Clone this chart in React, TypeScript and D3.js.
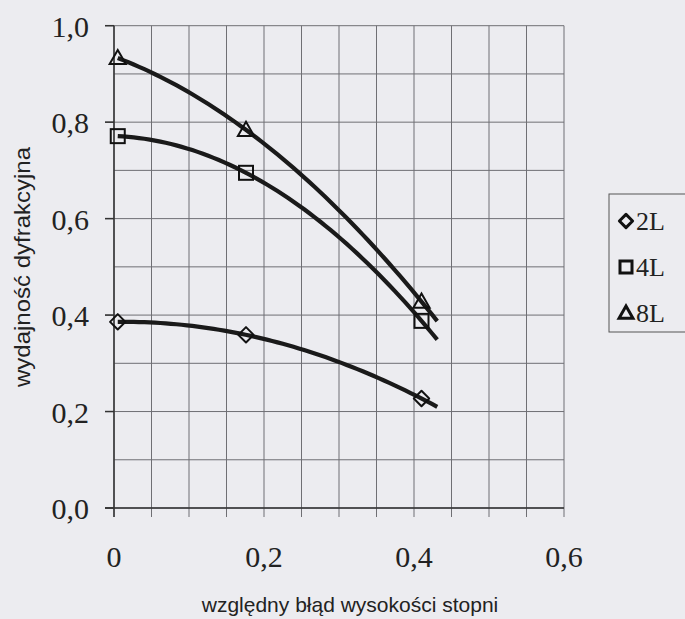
import React from "react";
import * as d3 from "d3";

const xValues = [0.005, 0.176, 0.41];
const series2L = [0.386, 0.359, 0.227];
const series4L = [0.771, 0.695, 0.388];
const series8L = [0.933, 0.784, 0.428];
const trendEndX = 0.431;
const xTickLabels = ["0", "0,2", "0,4", "0,6"];
const xTickValues = [0, 0.2, 0.4, 0.6];
const yTickValues = [0, 0.2, 0.4, 0.6, 0.8, 1.0];
const yTickLabels = ["0,0", "0,2", "0,4", "0,6", "0,8", "1,0"];
const seriesNames = ["2L", "4L", "8L"];

const W = 685;
const H = 619;

// polynomial (order 2) trendline through the three measured points
function quadTrend(xs: number[], ys: number[]) {
  const [x0, x1, x2] = xs;
  const [y0, y1, y2] = ys;
  return (t: number) =>
    (y0 * (t - x1) * (t - x2)) / ((x0 - x1) * (x0 - x2)) +
    (y1 * (t - x0) * (t - x2)) / ((x1 - x0) * (x1 - x2)) +
    (y2 * (t - x0) * (t - x1)) / ((x2 - x0) * (x2 - x1));
}

export default function App() {
  const x = d3.scaleLinear().domain([0, 0.6]).range([114, 564]);
  const y = d3.scaleLinear().domain([0, 1]).range([508, 25.7]);
  const xGrid = d3.range(0, 13).map((i) => i * 0.05);
  const yGrid = d3.range(0, 11).map((i) => i * 0.1);
  const line = d3
    .line<[number, number]>()
    .x((d) => x(d[0]))
    .y((d) => y(d[1]));

  const all: Record<string, number[]> = { "2L": series2L, "4L": series4L, "8L": series8L };
  const gridColor = "#6f6f74";
  const serif = "'Liberation Serif', 'Times New Roman', serif";
  const sans = "'Liberation Sans', Arial, sans-serif";

  const marker = (name: string, cx: number, cy: number, s: number, sw: number, key: string) => {
    if (name === "2L") {
      const r = s * 0.55;
      return (
        <path key={key} d={`M${cx},${cy - r}L${cx + r},${cy}L${cx},${cy + r}L${cx - r},${cy}Z`} fill="none" stroke="#111" strokeWidth={sw} strokeLinejoin="round" />
      );
    }
    if (name === "4L") {
      const h = s / 2;
      return <rect key={key} x={cx - h} y={cy - h} width={s} height={s} fill="none" stroke="#111" strokeWidth={sw} />;
    }
    const h = s * 0.58;
    return (
      <path key={key} d={`M${cx},${cy - h}L${cx + h},${cy + h * 0.75}L${cx - h},${cy + h * 0.75}Z`} fill="none" stroke="#111" strokeWidth={sw} />
    );
  };

  return (
    <svg width={W} height={H} style={{ position: "absolute", left: 0, top: 0, background: "#ececf0" }}>
      <rect x={0} y={0} width={W} height={H} fill="#ececf0" />
      {/* grid */}
      {xGrid.map((v, i) => (
        <line key={"gx" + i} x1={x(v)} x2={x(v)} y1={y(1)} y2={y(0) + 9} stroke={gridColor} strokeWidth={1} />
      ))}
      {yGrid.map((v, i) => (
        <line key={"gy" + i} x1={x(0) - (i % 2 === 0 ? 9 : 0)} x2={x(0.6)} y1={y(v)} y2={y(v)} stroke={gridColor} strokeWidth={1} />
      ))}
      {/* axes */}
      <line x1={x(0)} x2={x(0)} y1={y(1)} y2={y(0) + 9} stroke="#333" strokeWidth={1.5} />
      <line x1={x(0) - 9} x2={x(0.6)} y1={y(0)} y2={y(0)} stroke="#333" strokeWidth={1.5} />
      {yTickValues.map((v, i) => (
        <line key={"yt" + i} x1={x(0) - 9} x2={x(0)} y1={y(v)} y2={y(v)} stroke="#333" strokeWidth={1.5} />
      ))}
      {/* tick labels */}
      {yTickValues.map((v, i) => (
        <text key={"yl" + i} x={89} y={y(v) + 11} textAnchor="end" fontFamily={serif} fontSize={30} fill="#222">
          {yTickLabels[i]}
        </text>
      ))}
      {xTickValues.map((v, i) => (
        <text key={"xl" + i} x={x(v)} y={567} textAnchor="middle" fontFamily={serif} fontSize={30} fill="#222">
          {xTickLabels[i]}
        </text>
      ))}
      {/* axis titles */}
      <text x={350} y={612} textAnchor="middle" fontFamily={sans} fontSize={21} fill="#222">
        względny błąd wysokości stopni
      </text>
      <text transform={`translate(30,267) rotate(-90)`} textAnchor="middle" fontFamily={sans} fontSize={22} fill="#222" textLength={240} lengthAdjust="spacingAndGlyphs">
        wydajność dyfrakcyjna
      </text>
      {/* trendlines */}
      {seriesNames.map((name) => {
        const f = quadTrend(xValues, all[name]);
        const ts = d3.range(0, 61).map((i) => xValues[0] + ((trendEndX - xValues[0]) * i) / 60);
        const pts: [number, number][] = ts.map((t) => [t, f(t)] as [number, number]);
        return <path key={"c" + name} d={line(pts) || ""} fill="none" stroke="#1a1a1a" strokeWidth={4.2} />;
      })}
      {/* markers */}
      {seriesNames.map((name) =>
        xValues.map((xv, i) => marker(name, x(xv), y(all[name][i]), 14, 2, name + i))
      )}
      {/* legend */}
      <rect x={609} y={194} width={90} height={138} fill="#ececf0" stroke="#555" strokeWidth={1} />
      {seriesNames.map((name, i) => (
        <g key={"lg" + name}>
          {marker(name, 626, 221 + i * 46, 12, 3, "lm" + name)}
          <text x={636} y={230 + i * 46} fontFamily={serif} fontSize={26} fill="#222">
            {name}
          </text>
        </g>
      ))}
    </svg>
  );
}
